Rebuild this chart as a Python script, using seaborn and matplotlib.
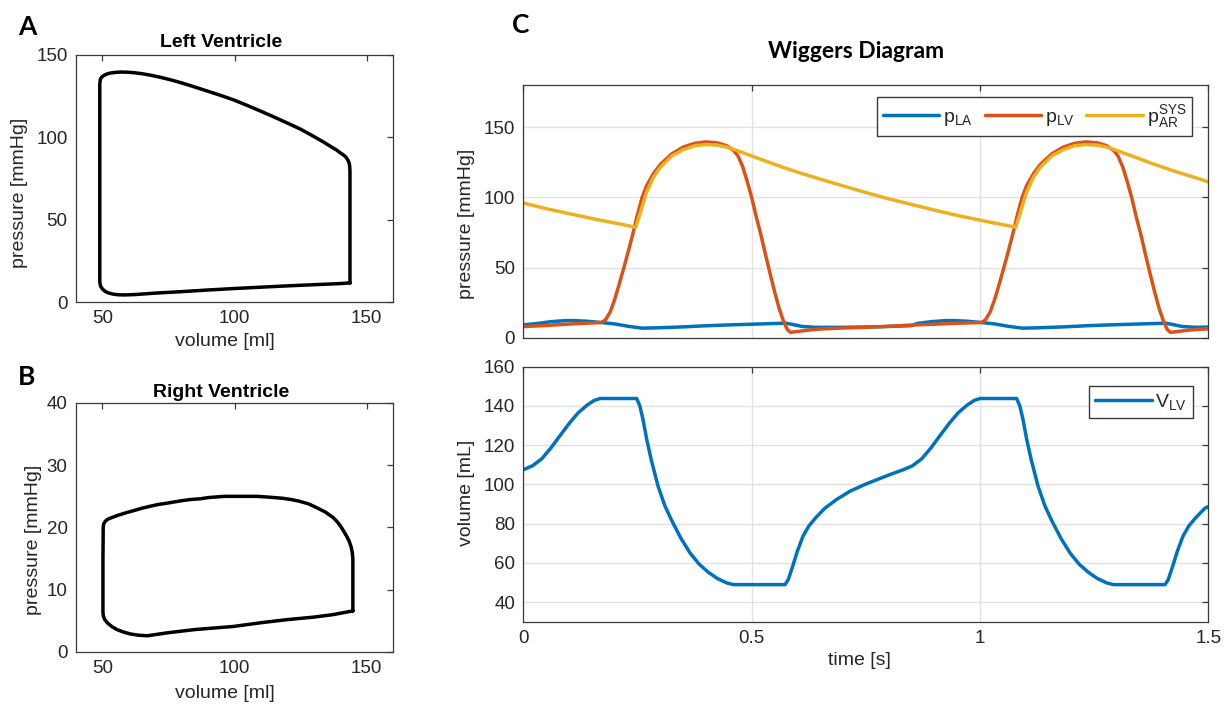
import numpy as np
import pandas as pd
import matplotlib
matplotlib.use("Agg")
import matplotlib.pyplot as plt
import seaborn as sns

# ---- PV loop data ----
lv_vol = [143.7, 143.7, 143.7, 143.5, 143.0, 142.3, 141.3, 140.0, 138.7, 136.5, 134.0,
          131.0, 128.0, 124.9, 121.0, 118.0, 114.0, 110.0, 105.0, 100.0, 95.0, 90.0,
          85.0, 80.0, 76.0, 72.0, 68.5, 65.0, 62.0, 59.5, 57.0, 55.0, 53.0, 51.5, 50.4,
          49.6, 49.2, 49.0, 49.0, 49.0, 49.0, 49.3, 50.0, 51.0, 52.3, 54.0, 56.0, 58.5,
          62.0, 70.0, 80.0, 90.0, 100.0, 110.0, 120.0, 130.0, 140.0, 143.7]
lv_pres = [11.6, 50.0, 80.0, 83.8, 85.9, 87.7, 89.2, 90.6, 92.2, 94.3, 96.8,
           99.6, 102.3, 105.0, 107.9, 110.1, 113.0, 115.8, 119.2, 122.5, 125.3, 127.9,
           130.5, 133.0, 134.8, 136.4, 137.6, 138.6, 139.2, 139.5, 139.6, 139.4, 139.0, 138.3, 137.4,
           136.3, 135.0, 132.5, 100.0, 50.0, 12.0, 9.6, 7.9, 6.5, 5.5, 4.8, 4.4, 4.3,
           4.5, 5.4, 6.3, 7.3, 8.2, 9.0, 9.8, 10.5, 11.2, 11.6]

rv_vol = [144.8, 144.8, 144.8, 144.6, 144.2, 143.4, 142.3, 141.2, 140.0, 138.7, 137.3,
          134.3, 131.0, 128.0, 124.7, 121.3, 118.0, 115.0, 112.1, 108.5, 105.0, 102.2, 99.6,
          96.3, 93.0, 90.0, 87.0, 83.5, 80.0, 77.2, 74.4, 71.2, 68.0, 65.0, 61.8, 59.2,
          57.0, 55.5, 54.3, 53.0, 51.9, 51.1, 50.5, 50.3, 50.2, 50.2, 50.2, 50.4, 50.9,
          51.8, 53.5, 55.5, 58.0, 60.5, 63.5, 66.9, 75.0, 85.0, 99.6, 110.0, 120.0, 130.0,
          137.3, 144.8]
rv_pres = [6.6, 10.0, 14.9, 15.9, 16.8, 17.8, 18.7, 19.5, 20.3, 21.0, 21.6,
           22.5, 23.2, 23.8, 24.2, 24.5, 24.7, 24.8, 24.9, 25.0, 25.0, 25.0, 25.0,
           25.0, 24.9, 24.8, 24.6, 24.5, 24.3, 24.1, 23.9, 23.7, 23.4, 23.1, 22.7, 22.4,
           22.1, 21.9, 21.7, 21.5, 21.3, 21.0, 20.6, 20.0, 15.0, 10.0, 6.3, 5.7, 5.2,
           4.7, 4.1, 3.6, 3.2, 2.9, 2.7, 2.6, 3.1, 3.6, 4.1, 4.7, 5.2, 5.6,
           6.0, 6.6]

# ---- Wiggers diagram data ----
t_lv = [0.000, 0.050, 0.100, 0.150, 0.171, 0.180, 0.190, 0.200, 0.210, 0.220, 0.230, 0.240,
        0.250, 0.260, 0.270, 0.285, 0.300, 0.325, 0.350, 0.375, 0.400, 0.425, 0.445, 0.460,
        0.470, 0.480, 0.490, 0.500, 0.510, 0.520, 0.530, 0.540, 0.550, 0.560, 0.570, 0.578,
        0.585, 0.600, 0.625, 0.650, 0.700, 0.750, 0.800, 0.850, 0.900, 0.950,
        1.003, 1.012, 1.022, 1.032, 1.042, 1.052, 1.062, 1.072, 1.082, 1.092, 1.102, 1.117,
        1.132, 1.157, 1.182, 1.207, 1.232, 1.257, 1.277, 1.292, 1.302, 1.312, 1.322, 1.332,
        1.342, 1.352, 1.362, 1.372, 1.382, 1.392, 1.402, 1.410, 1.417, 1.432, 1.457, 1.482, 1.500]
p_lv = [8.1, 8.9, 9.9, 10.7, 11.0, 13.0, 18.5, 27.5, 38.5, 50.0, 62.0, 74.5,
        88.0, 100.0, 108.5, 117.0, 123.5, 131.0, 135.8, 138.5, 139.5, 138.8, 136.8, 133.5,
        129.5, 122.0, 111.5, 99.8, 86.0, 73.5, 59.5, 46.0, 33.0, 21.0, 11.5, 6.0,
        4.0, 4.6, 5.6, 6.4, 7.1, 7.6, 8.3, 9.2, 9.8, 10.5,
        11.0, 13.0, 18.5, 27.5, 38.5, 50.0, 62.0, 74.5, 88.0, 100.0, 108.5, 117.0,
        123.5, 131.0, 135.8, 138.5, 139.5, 138.8, 136.8, 133.5, 129.5, 122.0, 111.5, 99.8,
        86.0, 73.5, 59.5, 46.0, 33.0, 21.0, 11.5, 6.0, 4.0, 4.6, 5.6, 6.2, 6.5]

t_ar = [0.000, 0.050, 0.100, 0.150, 0.200, 0.246, 0.255, 0.259, 0.270, 0.285, 0.300, 0.325,
        0.350, 0.375, 0.400, 0.425, 0.445, 0.460, 0.500, 0.550, 0.600, 0.650, 0.700, 0.750,
        0.800, 0.850, 0.900, 0.950, 1.000, 1.040, 1.078, 1.087, 1.091, 1.102, 1.117, 1.132,
        1.157, 1.182, 1.207, 1.232, 1.257, 1.277, 1.292, 1.332, 1.382, 1.432, 1.482, 1.500]
p_ar = [96.0, 92.0, 88.5, 85.0, 81.8, 78.8, 88.0, 92.5, 104.0, 114.5, 121.5, 129.5,
        134.0, 136.8, 137.6, 137.2, 135.8, 134.3, 129.5, 123.5, 118.0, 113.0, 108.2, 103.5,
        99.0, 95.0, 91.0, 87.2, 83.8, 81.2, 78.8, 88.0, 92.5, 104.0, 114.5, 121.5,
        129.5, 134.0, 136.8, 137.6, 137.2, 135.8, 134.3, 129.5, 123.5, 118.0, 113.0, 111.0]

t_la = [0.000, 0.030, 0.060, 0.090, 0.110, 0.140, 0.171, 0.200, 0.230, 0.260, 0.290, 0.350,
        0.400, 0.450, 0.500, 0.550, 0.575, 0.590, 0.610, 0.640, 0.700, 0.750, 0.800, 0.850,
        0.862, 0.892, 0.922, 0.942, 0.972, 1.003, 1.032, 1.062, 1.092, 1.122, 1.182, 1.232,
        1.282, 1.332, 1.382, 1.407, 1.422, 1.442, 1.472, 1.500]
p_la = [9.3, 10.3, 11.6, 12.3, 12.4, 11.9, 11.0, 10.0, 8.3, 7.0, 7.2, 7.9,
        8.7, 9.3, 9.8, 10.3, 10.5, 9.6, 8.2, 7.6, 7.6, 7.8, 8.2, 8.8,
        10.3, 11.6, 12.3, 12.4, 11.9, 11.0, 10.0, 8.3, 7.0, 7.2, 7.9, 8.7,
        9.3, 9.8, 10.3, 10.5, 9.6, 8.2, 7.6, 7.8]

t_v = [0.000, 0.020, 0.040, 0.060, 0.080, 0.100, 0.120, 0.140, 0.155, 0.168, 0.248, 0.255,
       0.262, 0.270, 0.280, 0.295, 0.310, 0.325, 0.345, 0.365, 0.385, 0.405, 0.425, 0.445,
       0.460, 0.573, 0.580, 0.590, 0.600, 0.612, 0.625, 0.640, 0.660, 0.685, 0.715, 0.750,
       0.800, 0.832, 0.852, 0.872, 0.892, 0.912, 0.932, 0.952, 0.972, 0.987, 1.000, 1.080,
       1.087, 1.094, 1.102, 1.112, 1.127, 1.142, 1.157, 1.177, 1.197, 1.217, 1.237, 1.257,
       1.277, 1.292, 1.405, 1.412, 1.422, 1.432, 1.444, 1.457, 1.472, 1.492, 1.500]
v_lv = [107.5, 109.5, 113.0, 118.5, 124.8, 131.0, 136.5, 140.5, 142.8, 143.8, 143.8, 140.0,
        133.0, 123.0, 112.5, 99.0, 89.0, 81.5, 72.5, 65.0, 59.3, 55.2, 52.0, 49.8,
        48.9, 48.9, 51.5, 58.5, 66.0, 73.5, 78.8, 83.0, 87.8, 92.2, 96.5, 100.2,
        104.8, 107.5, 109.5, 113.0, 118.5, 124.8, 131.0, 136.5, 140.5, 142.8, 143.8, 143.8,
        140.0, 133.0, 123.0, 112.5, 99.0, 89.0, 81.5, 72.5, 65.0, 59.3, 55.2, 52.0,
        49.8, 48.9, 48.9, 51.5, 58.5, 66.0, 73.5, 78.8, 83.0, 87.8, 88.7]

BLUE, ORANGE, YELLOW = "#0072BD", "#D95319", "#EDB120"
TXT = "#262626"
FS_TICK, FS_LAB = 13.5, 14

sns.set_theme(style="white")
plt.rcParams["font.family"] = ["Liberation Sans", "DejaVu Sans"]
plt.rcParams["mathtext.fontset"] = "custom"
plt.rcParams["mathtext.rm"] = "Liberation Sans"
plt.rcParams["mathtext.it"] = "Liberation Sans:italic"

fig = plt.figure(figsize=(12.24, 7.04), dpi=100)
axA = fig.add_axes([0.0621, 0.571, 0.259, 0.351])
axB = fig.add_axes([0.0621, 0.0739, 0.259, 0.3537])
axC1 = fig.add_axes([0.4276, 0.5199, 0.5597, 0.3594])
axC2 = fig.add_axes([0.4276, 0.1169, 0.5597, 0.3622])


def style_axes(ax, grid=False):
    for s in ax.spines.values():
        s.set_color("#3a3a3a")
        s.set_linewidth(0.9)
    ax.tick_params(direction="in", length=4, width=0.9, top=True, right=True,
                   colors="#3a3a3a", labelcolor=TXT, labelsize=FS_TICK, pad=6)
    if grid:
        ax.grid(True, color="#e3e3e3", linewidth=1)
        ax.set_axisbelow(True)


def legend(ax, anchor, ncol=1):
    ax.legend(loc="upper right", bbox_to_anchor=anchor, ncol=ncol, fontsize=FS_LAB,
              frameon=True, fancybox=False, framealpha=1, edgecolor="#3a3a3a",
              handlelength=2.9, columnspacing=0.6, handletextpad=0.2,
              borderpad=0.3, borderaxespad=0, labelcolor=TXT)


# Panel A
sns.lineplot(x=lv_vol, y=lv_pres, sort=False, estimator=None, color="black",
             linewidth=2.5, ax=axA)
axA.set_xlim(40, 160)
axA.set_ylim(0, 150)
axA.set_xticks([50, 100, 150])
axA.set_yticks([0, 50, 100, 150])
axA.set_xlabel("volume [ml]", fontsize=FS_LAB, color=TXT)
axA.set_ylabel("pressure [mmHg]", fontsize=FS_LAB, color=TXT)
axA.xaxis.set_label_coords(0.47, -0.1255)
axA.yaxis.set_label_coords(-0.150, 0.44)
axA.set_title("Left Ventricle", fontsize=14, fontweight="bold", color="black",
              x=0.457, y=1.0324, pad=0)
style_axes(axA)

# Panel B
sns.lineplot(x=rv_vol, y=rv_pres, sort=False, estimator=None, color="black",
             linewidth=2.5, ax=axB)
axB.set_xlim(40, 160)
axB.set_ylim(0, 40)
axB.set_xticks([50, 100, 150])
axB.set_yticks([0, 10, 20, 30, 40])
axB.set_xlabel("volume [ml]", fontsize=FS_LAB, color=TXT)
axB.set_ylabel("pressure [mmHg]", fontsize=FS_LAB, color=TXT)
axB.xaxis.set_label_coords(0.47, -0.1325)
axB.yaxis.set_label_coords(-0.107, 0.45)
axB.set_title("Right Ventricle", fontsize=14, fontweight="bold", color="black",
              x=0.457, y=1.0253, pad=0)
style_axes(axB)

# Panel C top: pressures
sns.lineplot(x=t_la, y=p_la, estimator=None, color=BLUE, linewidth=2.5, ax=axC1,
             label=r"p$_{\mathrm{LA}}$")
sns.lineplot(x=t_lv, y=p_lv, estimator=None, color=ORANGE, linewidth=2.5, ax=axC1,
             label=r"p$_{\mathrm{LV}}$")
sns.lineplot(x=t_ar, y=p_ar, estimator=None, color=YELLOW, linewidth=2.5, ax=axC1,
             label=r"p$_{\mathrm{AR}}^{\mathrm{SYS}}$")
axC1.set_xlim(0, 1.5)
axC1.set_ylim(0, 180)
axC1.set_xticks([0, 0.5, 1, 1.5])
axC1.set_xticklabels([])
axC1.set_yticks([0, 50, 100, 150])
axC1.set_ylabel("pressure [mmHg]", fontsize=FS_LAB, color=TXT)
axC1.yaxis.set_label_coords(-0.0707, 0.4526)
style_axes(axC1, grid=True)
legend(axC1, (0.976, 0.9526), ncol=3)

# Panel C bottom: volume
sns.lineplot(x=t_v, y=v_lv, estimator=None, color=BLUE, linewidth=2.5, ax=axC2,
             label=r"V$_{\mathrm{LV}}$")
axC2.set_xlim(0, 1.5)
axC2.set_ylim(30, 160)
axC2.set_xticks([0, 0.5, 1, 1.5])
axC2.set_xticklabels(["0", "0.5", "1", "1.5"])
axC2.set_yticks([40, 60, 80, 100, 120, 140, 160])
axC2.set_xlabel("time [s]", fontsize=FS_LAB, color=TXT)
axC2.set_ylabel("volume [mL]", fontsize=FS_LAB, color=TXT)
axC2.xaxis.set_label_coords(0.4907, -0.119)
axC2.yaxis.set_label_coords(-0.0707, 0.505)
style_axes(axC2, grid=True)
legend(axC2, (0.9775, 0.9243))

# Panel letters and overall title
for letter, x, y in [("A", 0.0147, 0.950), ("B", 0.0147, 0.453), ("C", 0.418, 0.953)]:
    fig.text(x, y, letter, fontsize=19, fontweight="bold", family=["Lato", "DejaVu Sans"],
             va="baseline", ha="left", color="black")
fig.text(0.699, 0.917, "Wiggers Diagram", fontsize=16.5, fontweight="bold",
         family=["Lato", "DejaVu Sans"], ha="center", va="baseline", color="black")

fig.savefig("out.png", dpi=100)
